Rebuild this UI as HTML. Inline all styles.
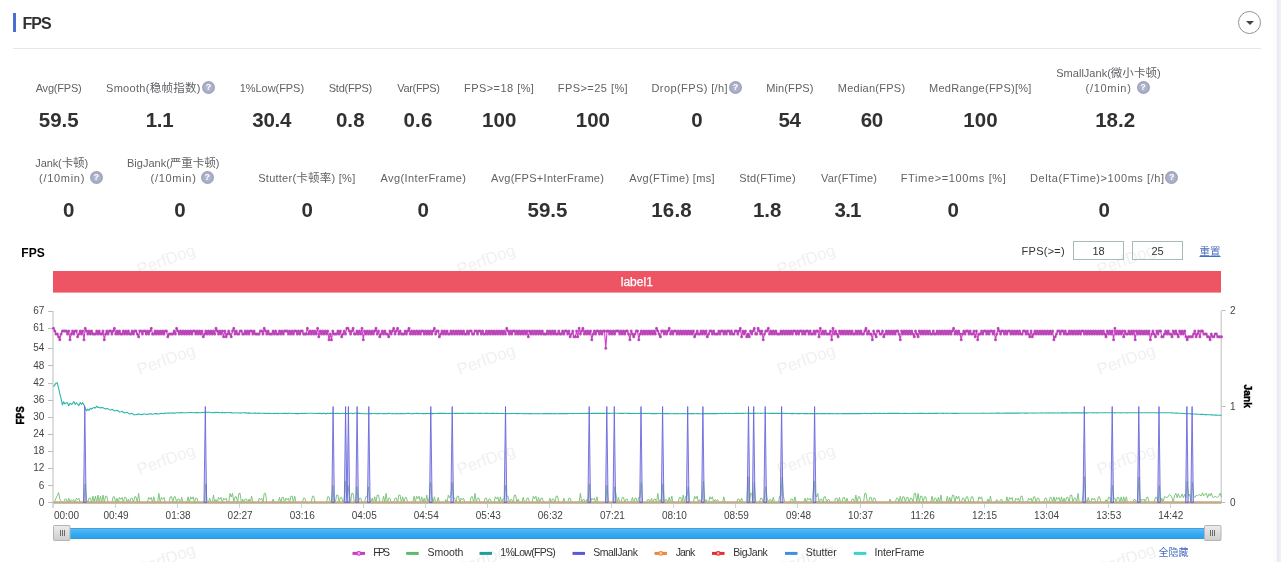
<!DOCTYPE html>
<html lang="zh-CN">
<head>
<meta charset="utf-8">
<title>FPS</title>
<style>
html,body{margin:0;padding:0;background:#fff;}
body{width:1281px;height:562px;position:relative;overflow:hidden;font-family:"Liberation Sans","Noto Sans CJK SC",sans-serif;color:#606266;}
.edge{position:absolute;left:1272px;top:0;width:9px;height:562px;background:linear-gradient(to right,#fff 0,#fafafa 50%,#eaeaf4 60%,#ebebf5 75%,#f0f0fa 85%,#f0f0fa 100%);}
.bar{position:absolute;left:13px;top:13px;width:3px;height:19px;background:#4a6fd0;}
.title{position:absolute;left:22.6px;top:14px;height:19px;line-height:19px;font-size:16px;letter-spacing:-1px;font-weight:bold;color:#303133;white-space:nowrap;}
.hr{position:absolute;left:13px;top:48px;width:1248px;height:1px;background:#e6e6e6;}
.fold{position:absolute;left:1238px;top:11px;width:21px;height:21px;border:1px solid #939393;border-radius:50%;background:#fff;}
.fold i{position:absolute;left:6.5px;top:9px;width:0;height:0;border-left:4px solid transparent;border-right:4px solid transparent;border-top:4px solid #444;}
.lb{position:absolute;white-space:pre;font-size:11px;line-height:14px;height:14px;color:#606266;}
.lb .c{font-size:11.5px;}
.vl{position:absolute;white-space:pre;font-size:20.5px;line-height:24px;height:24px;font-weight:bold;color:#303133;text-align:center;}
.q{position:absolute;width:13px;height:13px;border-radius:50%;background:radial-gradient(circle,#b4bcd8 0,#aab0cc 45%,#9c9eae 72%);color:#fff;font-size:9px;line-height:13px;font-weight:bold;text-align:center;}
.ct{position:absolute;left:21.3px;top:245.5px;font-size:12px;line-height:14px;font-weight:bold;color:#000;white-space:nowrap;}
.fl{position:absolute;top:244px;font-size:11px;line-height:14px;color:#333;white-space:pre;}
.inp{position:absolute;top:241px;width:49px;height:17px;border:1px solid #a9b8b8;font-size:11px;line-height:19px;text-align:center;color:#333;}
.lnk{position:absolute;font-size:10.5px;line-height:14px;color:#4a6cc0;text-decoration:underline;white-space:nowrap;}
svg{position:absolute;left:0;top:0;}
svg text{font-family:"Liberation Sans","Noto Sans CJK SC",sans-serif;}
</style>
</head>
<body>

<svg class="wm" width="1281" height="562" viewBox="0 0 1281 562"><g fill="#f0f0f0" font-size="16.5" text-anchor="middle">
<text transform="translate(166.0,259.3) rotate(-20)" y="6">PerfDog</text>
<text transform="translate(486.0,259.3) rotate(-20)" y="6">PerfDog</text>
<text transform="translate(806.0,259.3) rotate(-20)" y="6">PerfDog</text>
<text transform="translate(1126.0,259.3) rotate(-20)" y="6">PerfDog</text>
<text transform="translate(166.0,359.3) rotate(-20)" y="6">PerfDog</text>
<text transform="translate(486.0,359.3) rotate(-20)" y="6">PerfDog</text>
<text transform="translate(806.0,359.3) rotate(-20)" y="6">PerfDog</text>
<text transform="translate(1126.0,359.3) rotate(-20)" y="6">PerfDog</text>
<text transform="translate(166.0,459.3) rotate(-20)" y="6">PerfDog</text>
<text transform="translate(486.0,459.3) rotate(-20)" y="6">PerfDog</text>
<text transform="translate(806.0,459.3) rotate(-20)" y="6">PerfDog</text>
<text transform="translate(1126.0,459.3) rotate(-20)" y="6">PerfDog</text>
<text transform="translate(166.0,558.5) rotate(-20)" y="6">PerfDog</text>
<text transform="translate(486.0,558.5) rotate(-20)" y="6">PerfDog</text>
<text transform="translate(806.0,558.5) rotate(-20)" y="6">PerfDog</text>
<text transform="translate(1126.0,558.5) rotate(-20)" y="6">PerfDog</text>
</g></svg>
<div class="edge"></div>
<div class="bar"></div><div class="title">FPS</div><div class="fold"><i></i></div><div class="hr"></div>
<div class="stats">
<div class="lb" id="l1" style="left:35.70px;top:80.80px;letter-spacing:-0.214px">Avg(FPS)</div>
<div class="lb" id="l2" style="left:106.00px;top:80.80px;letter-spacing:0.295px">Smooth(<span class="c">稳帧指数</span>)</div>
<div class="lb" id="l3" style="left:239.75px;top:80.80px;letter-spacing:-0.056px">1%Low(FPS)</div>
<div class="lb" id="l4" style="left:328.75px;top:80.80px;letter-spacing:-0.250px">Std(FPS)</div>
<div class="lb" id="l5" style="left:397.25px;top:80.80px;letter-spacing:-0.321px">Var(FPS)</div>
<div class="lb" id="l6" style="left:464.00px;top:80.80px;letter-spacing:0.450px">FPS&gt;=18 [%]</div>
<div class="lb" id="l7" style="left:557.75px;top:80.80px;letter-spacing:0.450px">FPS&gt;=25 [%]</div>
<div class="lb" id="l8" style="left:651.50px;top:80.80px;letter-spacing:0.404px">Drop(FPS) [/h]</div>
<div class="lb" id="l9" style="left:766.25px;top:80.80px;letter-spacing:0.107px">Min(FPS)</div>
<div class="lb" id="l10" style="left:837.75px;top:80.80px;letter-spacing:0.250px">Median(FPS)</div>
<div class="lb" id="l11" style="left:929.00px;top:80.80px;letter-spacing:0.267px">MedRange(FPS)[%]</div>
<div class="lb" id="l12" style="left:1056.25px;top:65.80px;letter-spacing:0.018px">SmallJank(<span class="c">微小卡顿</span>)</div>
<div class="lb" id="l13" style="left:1085.50px;top:80.80px;letter-spacing:0.714px">(/10min)</div>
<div class="lb" id="m1" style="left:35.25px;top:155.80px;letter-spacing:-0.107px">Jank(<span class="c">卡顿</span>)</div>
<div class="lb" id="m2" style="left:39.00px;top:170.80px;letter-spacing:0.714px">(/10min)</div>
<div class="lb" id="m3" style="left:127.00px;top:155.80px;letter-spacing:0.000px">BigJank(<span class="c">严重卡顿</span>)</div>
<div class="lb" id="m4" style="left:150.50px;top:170.80px;letter-spacing:0.714px">(/10min)</div>
<div class="lb" id="m5" style="left:258.25px;top:170.80px;letter-spacing:0.250px">Stutter(<span class="c">卡顿率</span>) [%]</div>
<div class="lb" id="m6" style="left:380.50px;top:170.80px;letter-spacing:0.393px">Avg(InterFrame)</div>
<div class="lb" id="m7" style="left:491.00px;top:170.80px;letter-spacing:0.292px">Avg(FPS+InterFrame)</div>
<div class="lb" id="m8" style="left:629.25px;top:170.80px;letter-spacing:0.339px">Avg(FTime) [ms]</div>
<div class="lb" id="m9" style="left:739.25px;top:170.80px;letter-spacing:0.194px">Std(FTime)</div>
<div class="lb" id="m10" style="left:821.00px;top:170.80px;letter-spacing:0.167px">Var(FTime)</div>
<div class="lb" id="m11" style="left:900.75px;top:170.80px;letter-spacing:0.633px">FTime&gt;=100ms [%]</div>
<div class="lb" id="m12" style="left:1030.00px;top:170.80px;letter-spacing:0.568px">Delta(FTime)&gt;100ms [/h]</div>
<div class="vl" id="v1" style="left:18.75px;top:108.40px;width:80px;letter-spacing:-0.033px">59.5</div>
<div class="vl" id="v2" style="left:119.50px;top:108.40px;width:80px;letter-spacing:-0.350px">1.1</div>
<div class="vl" id="v3" style="left:231.75px;top:108.40px;width:80px;letter-spacing:-0.200px">30.4</div>
<div class="vl" id="v4" style="left:310.27px;top:108.40px;width:80px;letter-spacing:0.075px">0.8</div>
<div class="vl" id="v5" style="left:378.00px;top:108.40px;width:80px;letter-spacing:0.200px">0.6</div>
<div class="vl" id="v6" style="left:459.27px;top:108.40px;width:80px;letter-spacing:0.075px">100</div>
<div class="vl" id="v7" style="left:552.88px;top:108.40px;width:80px;letter-spacing:0.075px">100</div>
<div class="vl" id="v8" style="left:657.00px;top:108.40px;width:80px;letter-spacing:0.000px">0</div>
<div class="vl" id="v9" style="left:749.50px;top:108.40px;width:80px;letter-spacing:-0.500px">54</div>
<div class="vl" id="v10" style="left:831.88px;top:108.40px;width:80px;letter-spacing:-0.350px">60</div>
<div class="vl" id="v11" style="left:940.48px;top:108.40px;width:80px;letter-spacing:0.075px">100</div>
<div class="vl" id="v12" style="left:1075.15px;top:108.40px;width:80px;letter-spacing:-0.033px">18.2</div>
<div class="vl" id="w1" style="left:28.60px;top:198.40px;width:80px;letter-spacing:0.000px">0</div>
<div class="vl" id="w2" style="left:140.05px;top:198.40px;width:80px;letter-spacing:0.000px">0</div>
<div class="vl" id="w3" style="left:267.10px;top:198.40px;width:80px;letter-spacing:0.000px">0</div>
<div class="vl" id="w4" style="left:383.10px;top:198.40px;width:80px;letter-spacing:0.000px">0</div>
<div class="vl" id="w5" style="left:507.50px;top:198.40px;width:80px;letter-spacing:-0.033px">59.5</div>
<div class="vl" id="w6" style="left:631.62px;top:198.40px;width:80px;letter-spacing:0.217px">16.8</div>
<div class="vl" id="w7" style="left:727.12px;top:198.40px;width:80px;letter-spacing:-0.075px">1.8</div>
<div class="vl" id="w8" style="left:807.62px;top:198.40px;width:80px;letter-spacing:-0.825px">3.1</div>
<div class="vl" id="w9" style="left:913.25px;top:198.40px;width:80px;letter-spacing:0.000px">0</div>
<div class="vl" id="w10" style="left:1064.25px;top:198.40px;width:80px;letter-spacing:0.000px">0</div>
<div class="q" style="left:202.0px;top:81.0px">?</div>
<div class="q" style="left:729.1px;top:81.0px">?</div>
<div class="q" style="left:1136.6px;top:81.0px">?</div>
<div class="q" style="left:89.7px;top:171.0px">?</div>
<div class="q" style="left:200.7px;top:171.0px">?</div>
<div class="q" style="left:1165.2px;top:171.0px">?</div>
</div>
<div class="ct" id="ct">FPS</div>
<div class="fl" id="fl" style="left:1021.6px;letter-spacing:0.25px">FPS(&gt;=)</div>
<div class="inp" style="left:1073px">18</div><div class="inp" style="left:1132px">25</div>
<div class="lnk" id="rst" style="left:1199.5px;top:244px">重置</div>
<div class="lnk" id="hid" style="left:1158.5px;top:546px;font-size:10px;text-decoration:none">全隐藏</div>
<svg width="1281" height="562" viewBox="0 0 1281 562">
<rect x="53" y="271" width="1168" height="21.6" fill="#ed5565"/>
<text x="636.8" y="286.2" font-size="12" fill="#fff" stroke="#fff" stroke-width="0.25" text-anchor="middle">label1</text>
<g stroke="#bdbdbd" stroke-width="1" fill="none">
<path d="M53 311 V508"/>
<path d="M1221.2 311 V503"/>
<path d="M48 502.5 H53"/>
<path d="M48 485.5 H53"/>
<path d="M48 468.5 H53"/>
<path d="M48 451.5 H53"/>
<path d="M48 434.5 H53"/>
<path d="M48 417.5 H53"/>
<path d="M48 400.5 H53"/>
<path d="M48 383.5 H53"/>
<path d="M48 365.5 H53"/>
<path d="M48 348.5 H53"/>
<path d="M48 328.5 H53"/>
<path d="M48 311.5 H53"/>
<path d="M1221.5 502.5 H1225.5"/>
<path d="M1221.5 406.5 H1225.5"/>
<path d="M1221.5 310.5 H1225.5"/>
</g>
<g stroke="#c4d6e0" stroke-width="1" fill="none" shape-rendering="crispEdges">
<path d="M53.5 504 V508"/>
<path d="M115.5 504 V508"/>
<path d="M177.5 504 V508"/>
<path d="M239.5 504 V508"/>
<path d="M301.5 504 V508"/>
<path d="M363.5 504 V508"/>
<path d="M425.5 504 V508"/>
<path d="M487.5 504 V508"/>
<path d="M549.5 504 V508"/>
<path d="M611.5 504 V508"/>
<path d="M673.5 504 V508"/>
<path d="M735.5 504 V508"/>
<path d="M797.5 504 V508"/>
<path d="M860.5 504 V508"/>
<path d="M922.5 504 V508"/>
<path d="M984.5 504 V508"/>
<path d="M1046.5 504 V508"/>
<path d="M1108.5 504 V508"/>
<path d="M1170.5 504 V508"/>
</g>
<g font-size="10" fill="#444" text-anchor="end">
<text x="44.4" y="505.7">0</text>
<text x="44.4" y="488.6">6</text>
<text x="44.4" y="471.4">12</text>
<text x="44.4" y="454.3">18</text>
<text x="44.4" y="437.1">24</text>
<text x="44.4" y="420.0">30</text>
<text x="44.4" y="402.8">36</text>
<text x="44.4" y="385.7">42</text>
<text x="44.4" y="368.6">48</text>
<text x="44.4" y="351.4">54</text>
<text x="44.4" y="331.4">61</text>
<text x="44.4" y="314.3">67</text>
</g>
<g font-size="10" fill="#444" text-anchor="start">
<text x="1230" y="505.7">0</text>
<text x="1230" y="409.7">1</text>
<text x="1230" y="313.7">2</text>
</g>
<g font-size="10" fill="#444" text-anchor="middle">
<text x="54" y="518.6" text-anchor="start">00:00</text>
<text x="116.0" y="518.6">00:49</text>
<text x="178.1" y="518.6">01:38</text>
<text x="240.1" y="518.6">02:27</text>
<text x="302.2" y="518.6">03:16</text>
<text x="364.2" y="518.6">04:05</text>
<text x="426.2" y="518.6">04:54</text>
<text x="488.3" y="518.6">05:43</text>
<text x="550.3" y="518.6">06:32</text>
<text x="612.4" y="518.6">07:21</text>
<text x="674.4" y="518.6">08:10</text>
<text x="736.4" y="518.6">08:59</text>
<text x="798.5" y="518.6">09:48</text>
<text x="860.5" y="518.6">10:37</text>
<text x="922.6" y="518.6">11:26</text>
<text x="984.6" y="518.6">12:15</text>
<text x="1046.6" y="518.6">13:04</text>
<text x="1108.7" y="518.6">13:53</text>
<text x="1170.7" y="518.6">14:42</text>
</g>
<text id="ylab" transform="translate(24.1,424.4) rotate(-90) scale(0.84,1)" font-size="11" font-weight="bold" fill="#000" stroke="#000" stroke-width="0.45">FPS</text>
<text id="y2lab" transform="translate(1244,384.6) rotate(90) scale(0.93,1)" font-size="11" font-weight="bold" fill="#000" stroke="#000" stroke-width="0.4">Jank</text>
<polyline points="53.5,502.5 54.8,501.1 56.0,498.2 57.3,495.4 58.6,492.5 59.8,499.1 61.1,501.4 62.4,502.5 63.7,502.5 64.9,499.1 66.2,499.1 67.5,502.5 68.7,498.2 70.0,502.5 71.3,499.6 72.5,500.8 73.8,499.6 75.1,502.5 76.4,498.2 77.6,499.9 78.9,498.2 80.2,502.5 81.4,502.5 82.7,502.5 84.0,502.5 85.2,483.9 86.5,499.6 87.8,502.5 89.0,498.2 90.3,498.2 91.6,502.5 92.9,496.2 94.1,502.5 95.4,496.2 96.7,502.5 97.9,495.1 99.2,502.5 100.5,496.2 101.7,502.5 103.0,495.1 104.3,502.5 105.6,496.2 106.8,496.2 108.1,502.5 109.4,502.5 110.6,502.5 111.9,502.5 113.2,496.8 114.4,496.8 115.7,502.5 117.0,498.2 118.2,502.5 119.5,497.4 120.8,499.4 122.1,497.4 123.3,502.5 124.6,497.4 125.9,497.4 127.1,502.5 128.4,499.1 129.7,502.5 130.9,498.2 132.2,498.2 133.5,502.5 134.8,496.8 136.0,496.8 137.3,502.5 138.6,493.4 139.8,502.5 141.1,502.5 142.4,502.5 143.6,502.5 144.9,502.5 146.2,502.5 147.4,502.5 148.7,497.4 150.0,499.4 151.3,497.4 152.5,502.5 153.8,496.8 155.1,502.5 156.3,502.5 157.6,502.5 158.9,493.4 160.1,502.5 161.4,497.4 162.7,499.4 164.0,497.4 165.2,502.5 166.5,502.5 167.8,502.5 169.0,502.5 170.3,496.8 171.6,496.8 172.8,502.5 174.1,496.8 175.4,496.8 176.6,502.5 177.9,499.1 179.2,499.1 180.5,502.5 181.7,497.4 183.0,502.5 184.3,502.5 185.5,502.5 186.8,502.5 188.1,496.8 189.3,502.5 190.6,496.8 191.9,499.1 193.2,496.8 194.4,502.5 195.7,498.2 197.0,498.2 198.2,502.5 199.5,502.5 200.8,502.5 202.0,502.5 203.3,502.5 204.6,502.5 205.8,483.9 207.1,502.5 208.4,502.5 209.7,498.2 210.9,502.5 212.2,502.5 213.5,495.1 214.7,502.5 216.0,499.6 217.3,502.5 218.5,497.4 219.8,499.4 221.1,497.4 222.4,502.5 223.6,498.2 224.9,499.9 226.2,498.2 227.4,502.5 228.7,502.5 230.0,493.4 231.2,497.0 232.5,493.4 233.8,502.5 235.0,496.8 236.3,496.8 237.6,502.5 238.9,493.4 240.1,493.4 241.4,502.5 242.7,499.1 243.9,502.5 245.2,499.1 246.5,499.1 247.7,502.5 249.0,499.1 250.3,502.5 251.6,496.2 252.8,502.5 254.1,502.5 255.4,502.5 256.6,502.5 257.9,502.5 259.2,498.2 260.4,499.9 261.7,498.2 263.0,502.5 264.2,493.4 265.5,493.4 266.8,502.5 268.1,502.5 269.3,502.5 270.6,502.5 271.9,502.5 273.1,499.1 274.4,502.5 275.7,502.5 276.9,502.5 278.2,502.5 279.5,497.4 280.8,502.5 282.0,497.4 283.3,497.4 284.6,502.5 285.8,498.2 287.1,499.9 288.4,498.2 289.6,502.5 290.9,496.2 292.2,496.2 293.4,502.5 294.7,496.2 296.0,502.5 297.3,502.5 298.5,502.5 299.8,502.5 301.1,502.5 302.3,502.5 303.6,498.2 304.9,498.2 306.1,502.5 307.4,502.5 308.7,502.5 310.0,502.5 311.2,502.5 312.5,496.2 313.8,496.2 315.0,502.5 316.3,502.5 317.6,502.5 318.8,502.5 320.1,502.5 321.4,502.5 322.6,502.5 323.9,502.5 325.2,502.5 326.5,502.5 327.7,496.8 329.0,496.8 330.3,502.5 331.5,502.5 332.8,485.4 334.1,502.5 335.3,502.5 336.6,495.1 337.9,495.1 339.2,502.5 340.4,497.4 341.7,497.4 343.0,502.5 344.2,499.1 345.5,481.1 346.8,497.4 348.0,485.4 349.3,495.1 350.6,502.5 351.8,493.4 353.1,493.4 354.4,502.5 355.7,502.5 356.9,486.8 358.2,502.5 359.5,498.2 360.7,498.2 362.0,502.5 363.3,502.5 364.5,502.5 365.8,496.8 367.1,496.8 368.4,486.8 369.6,499.1 370.9,502.5 372.2,498.2 373.4,502.5 374.7,496.8 376.0,502.5 377.2,495.1 378.5,495.1 379.8,502.5 381.0,502.5 382.3,502.5 383.6,496.2 384.9,502.5 386.1,493.4 387.4,502.5 388.7,498.2 389.9,498.2 391.2,502.5 392.5,502.5 393.7,502.5 395.0,498.2 396.3,498.2 397.6,502.5 398.8,495.1 400.1,495.1 401.4,502.5 402.6,496.8 403.9,502.5 405.2,497.4 406.4,497.4 407.7,502.5 409.0,502.5 410.2,502.5 411.5,502.5 412.8,502.5 414.1,496.2 415.3,502.5 416.6,496.2 417.9,498.7 419.1,496.2 420.4,502.5 421.7,496.8 422.9,502.5 424.2,498.2 425.5,502.5 426.8,495.1 428.0,502.5 429.3,497.4 430.6,482.5 431.8,497.4 433.1,502.5 434.4,496.8 435.6,502.5 436.9,502.5 438.2,497.4 439.4,502.5 440.7,502.5 442.0,502.5 443.3,502.5 444.5,502.5 445.8,499.6 447.1,502.5 448.3,495.1 449.6,498.0 450.9,495.1 452.1,482.5 453.4,498.2 454.7,498.2 456.0,502.5 457.2,496.2 458.5,496.2 459.8,502.5 461.0,498.2 462.3,499.9 463.6,498.2 464.8,502.5 466.1,502.5 467.4,502.5 468.6,502.5 469.9,502.5 471.2,496.8 472.5,496.8 473.7,502.5 475.0,493.4 476.3,502.5 477.5,498.2 478.8,498.2 480.1,502.5 481.3,502.5 482.6,502.5 483.9,502.5 485.2,498.2 486.4,498.2 487.7,502.5 489.0,499.1 490.2,499.1 491.5,502.5 492.8,502.5 494.0,502.5 495.3,496.8 496.6,499.1 497.8,496.8 499.1,502.5 500.4,496.8 501.7,502.5 502.9,499.1 504.2,499.1 505.5,485.4 506.7,496.2 508.0,496.2 509.3,502.5 510.5,499.6 511.8,499.6 513.1,502.5 514.4,495.1 515.6,495.1 516.9,502.5 518.2,499.1 519.4,502.5 520.7,502.5 522.0,502.5 523.2,497.4 524.5,502.5 525.8,502.5 527.0,498.2 528.3,498.2 529.6,502.5 530.9,502.5 532.1,502.5 533.4,496.2 534.7,498.7 535.9,496.2 537.2,502.5 538.5,497.4 539.7,502.5 541.0,498.2 542.3,498.2 543.6,502.5 544.8,502.5 546.1,502.5 547.4,502.5 548.6,502.5 549.9,498.2 551.2,502.5 552.4,499.1 553.7,499.1 555.0,502.5 556.2,496.2 557.5,496.2 558.8,502.5 560.1,502.5 561.3,502.5 562.6,502.5 563.9,498.2 565.1,502.5 566.4,502.5 567.7,502.5 568.9,498.2 570.2,498.2 571.5,502.5 572.8,502.5 574.0,502.5 575.3,502.5 576.6,502.5 577.8,502.5 579.1,502.5 580.4,493.4 581.6,502.5 582.9,499.6 584.2,499.6 585.4,502.5 586.7,499.6 588.0,500.8 589.3,483.9 590.5,502.5 591.8,498.2 593.1,499.9 594.3,498.2 595.6,502.5 596.9,496.8 598.1,502.5 599.4,502.5 600.7,502.5 602.0,502.5 603.2,502.5 604.5,502.5 605.8,502.5 607.0,485.4 608.3,502.5 609.6,502.5 610.8,502.5 612.1,502.5 613.4,502.5 614.6,486.8 615.9,493.4 617.2,502.5 618.5,497.4 619.7,502.5 621.0,502.5 622.3,497.4 623.5,497.4 624.8,502.5 626.1,499.1 627.3,499.1 628.6,502.5 629.9,502.5 631.2,502.5 632.4,497.4 633.7,502.5 635.0,498.2 636.2,498.2 637.5,502.5 638.8,497.4 640.0,497.4 641.3,482.5 642.6,502.5 643.8,502.5 645.1,502.5 646.4,502.5 647.7,499.6 648.9,499.6 650.2,502.5 651.5,498.2 652.7,502.5 654.0,499.1 655.3,499.1 656.5,502.5 657.8,493.4 659.1,502.5 660.4,499.6 661.6,502.5 662.9,483.9 664.2,502.5 665.4,499.6 666.7,499.6 668.0,502.5 669.2,497.4 670.5,502.5 671.8,496.2 673.0,502.5 674.3,502.5 675.6,502.5 676.9,502.5 678.1,502.5 679.4,497.4 680.7,497.4 681.9,502.5 683.2,495.1 684.5,502.5 685.7,496.2 687.0,496.2 688.3,486.8 689.6,502.5 690.8,502.5 692.1,502.5 693.4,502.5 694.6,496.2 695.9,498.7 697.2,496.2 698.4,502.5 699.7,499.6 701.0,500.8 702.2,499.6 703.5,481.1 704.8,502.5 706.1,499.6 707.3,502.5 708.6,502.5 709.9,496.8 711.1,499.1 712.4,496.8 713.7,502.5 714.9,499.6 716.2,500.8 717.5,499.6 718.8,502.5 720.0,502.5 721.3,502.5 722.6,502.5 723.8,496.8 725.1,502.5 726.4,502.5 727.6,502.5 728.9,502.5 730.2,502.5 731.4,502.5 732.7,502.5 734.0,502.5 735.3,502.5 736.5,502.5 737.8,499.1 739.1,499.1 740.3,502.5 741.6,498.2 742.9,502.5 744.1,502.5 745.4,502.5 746.7,502.5 748.0,476.8 749.2,502.5 750.5,493.4 751.8,493.4 753.0,502.5 754.3,482.5 755.6,502.5 756.8,502.5 758.1,502.5 759.4,502.5 760.6,498.2 761.9,498.2 763.2,502.5 764.5,497.4 765.7,486.8 767.0,497.4 768.3,502.5 769.5,499.6 770.8,499.6 772.1,502.5 773.3,497.4 774.6,502.5 775.9,502.5 777.2,502.5 778.4,502.5 779.7,496.2 781.0,496.2 782.2,476.8 783.5,496.8 784.8,502.5 786.0,502.5 787.3,502.5 788.6,502.5 789.8,502.5 791.1,499.1 792.4,499.1 793.7,502.5 794.9,496.8 796.2,502.5 797.5,502.5 798.7,502.5 800.0,502.5 801.3,502.5 802.5,502.5 803.8,502.5 805.1,498.2 806.4,502.5 807.6,498.2 808.9,499.9 810.2,498.2 811.4,502.5 812.7,497.4 814.0,481.1 815.2,493.4 816.5,497.0 817.8,493.4 819.0,502.5 820.3,499.1 821.6,499.1 822.9,502.5 824.1,496.8 825.4,496.8 826.7,502.5 827.9,499.6 829.2,499.6 830.5,502.5 831.7,502.5 833.0,502.5 834.3,502.5 835.6,498.2 836.8,498.2 838.1,502.5 839.4,497.4 840.6,502.5 841.9,502.5 843.2,497.4 844.4,497.4 845.7,502.5 847.0,498.2 848.2,502.5 849.5,502.5 850.8,502.5 852.1,499.1 853.3,499.1 854.6,502.5 855.9,495.1 857.1,502.5 858.4,496.8 859.7,496.8 860.9,502.5 862.2,502.5 863.5,502.5 864.8,493.4 866.0,493.4 867.3,502.5 868.6,502.5 869.8,497.4 871.1,497.4 872.4,502.5 873.6,498.2 874.9,498.2 876.2,502.5 877.4,502.5 878.7,502.5 880.0,502.5 881.3,502.5 882.5,502.5 883.8,502.5 885.1,502.5 886.3,502.5 887.6,502.5 888.9,502.5 890.1,499.1 891.4,502.5 892.7,502.5 894.0,502.5 895.2,502.5 896.5,498.2 897.8,498.2 899.0,502.5 900.3,496.2 901.6,502.5 902.8,496.8 904.1,496.8 905.4,502.5 906.6,497.4 907.9,497.4 909.2,502.5 910.5,498.2 911.7,498.2 913.0,502.5 914.3,493.4 915.5,493.4 916.8,502.5 918.1,493.4 919.3,502.5 920.6,496.2 921.9,496.2 923.2,502.5 924.4,496.8 925.7,496.8 927.0,502.5 928.2,502.5 929.5,502.5 930.8,502.5 932.0,496.2 933.3,502.5 934.6,498.2 935.8,498.2 937.1,502.5 938.4,497.4 939.7,502.5 940.9,495.1 942.2,502.5 943.5,502.5 944.7,502.5 946.0,502.5 947.3,496.2 948.5,502.5 949.8,497.4 951.1,502.5 952.4,495.1 953.6,495.1 954.9,502.5 956.2,496.2 957.4,498.7 958.7,496.2 960.0,502.5 961.2,502.5 962.5,498.2 963.8,498.2 965.0,502.5 966.3,496.8 967.6,496.8 968.9,502.5 970.1,502.5 971.4,496.8 972.7,496.8 973.9,502.5 975.2,502.5 976.5,502.5 977.7,502.5 979.0,496.8 980.3,499.1 981.6,496.8 982.8,502.5 984.1,502.5 985.4,502.5 986.6,502.5 987.9,499.1 989.2,502.5 990.4,496.2 991.7,502.5 993.0,502.5 994.2,502.5 995.5,502.5 996.8,499.6 998.1,502.5 999.3,502.5 1000.6,499.6 1001.9,499.6 1003.1,502.5 1004.4,502.5 1005.7,502.5 1006.9,496.8 1008.2,502.5 1009.5,497.4 1010.8,499.4 1012.0,497.4 1013.3,502.5 1014.6,502.5 1015.8,498.2 1017.1,499.9 1018.4,498.2 1019.6,502.5 1020.9,496.2 1022.2,496.2 1023.4,502.5 1024.7,502.5 1026.0,502.5 1027.3,502.5 1028.5,498.2 1029.8,499.9 1031.1,498.2 1032.3,502.5 1033.6,496.8 1034.9,496.8 1036.1,502.5 1037.4,498.2 1038.7,498.2 1040.0,502.5 1041.2,502.5 1042.5,502.5 1043.8,502.5 1045.0,498.2 1046.3,498.2 1047.6,502.5 1048.8,502.5 1050.1,497.4 1051.4,497.4 1052.6,502.5 1053.9,496.8 1055.2,502.5 1056.5,497.4 1057.7,499.4 1059.0,497.4 1060.3,502.5 1061.5,496.8 1062.8,502.5 1064.1,498.2 1065.3,502.5 1066.6,497.4 1067.9,497.4 1069.2,502.5 1070.4,495.1 1071.7,495.1 1073.0,502.5 1074.2,498.2 1075.5,498.2 1076.8,502.5 1078.0,493.4 1079.3,502.5 1080.6,502.5 1081.8,502.5 1083.1,495.1 1084.4,476.8 1085.7,499.6 1086.9,502.5 1088.2,497.4 1089.5,502.5 1090.7,502.5 1092.0,498.2 1093.3,499.9 1094.5,498.2 1095.8,502.5 1097.1,502.5 1098.4,496.8 1099.6,496.8 1100.9,502.5 1102.2,502.5 1103.4,502.5 1104.7,502.5 1106.0,499.6 1107.2,502.5 1108.5,497.4 1109.8,497.4 1111.0,502.5 1112.3,485.4 1113.6,498.2 1114.9,498.2 1116.1,502.5 1117.4,497.4 1118.7,497.4 1119.9,502.5 1121.2,496.8 1122.5,502.5 1123.7,496.8 1125.0,502.5 1126.3,496.8 1127.6,502.5 1128.8,502.5 1130.1,502.5 1131.4,502.5 1132.6,502.5 1133.9,499.6 1135.2,499.6 1136.4,502.5 1137.7,499.6 1139.0,476.8 1140.2,502.5 1141.5,499.1 1142.8,500.4 1144.1,499.1 1145.3,502.5 1146.6,497.4 1147.9,497.4 1149.1,502.5 1150.4,502.5 1151.7,502.5 1152.9,502.5 1154.2,502.5 1155.5,497.4 1156.8,497.4 1158.0,502.5 1159.3,485.4 1160.6,502.5 1161.8,498.2 1163.1,502.5 1164.4,496.8 1165.6,496.8 1166.9,497.6 1168.2,496.7 1169.4,494.6 1170.7,495.5 1172.0,497.9 1173.3,502.5 1174.5,495.6 1175.8,493.4 1177.1,497.7 1178.3,493.7 1179.6,497.5 1180.9,497.0 1182.1,493.9 1183.4,497.9 1184.7,494.3 1186.0,497.7 1187.2,481.1 1188.5,496.2 1189.8,494.2 1191.0,502.5 1192.3,482.5 1193.6,496.0 1194.8,497.5 1196.1,495.4 1197.4,495.8 1198.6,494.5 1199.9,495.2 1201.2,495.9 1202.5,492.8 1203.7,495.8 1205.0,494.1 1206.3,493.4 1207.5,497.8 1208.8,493.8 1210.1,495.9 1211.3,493.1 1212.6,497.1 1213.9,497.5 1215.2,496.1 1216.4,497.3 1217.7,497.2 1219.0,495.9 1220.2,493.2 1221.5,497.0" fill="none" stroke="#70c070" stroke-width="0.9" stroke-linejoin="round"/>
<path d="M53.5 502.5 H1221.5" stroke="#c0aa88" stroke-width="2.4" fill="none"/>
<polyline points="53.5,386.8 54.8,384.9 56.0,383.1 57.3,382.9 58.6,388.2 59.8,393.5 61.1,398.8 62.4,405.0 63.7,401.8 64.9,403.9 66.2,402.9 67.5,402.9 68.7,405.8 70.0,403.2 71.3,404.4 72.5,403.8 73.8,401.5 75.1,404.4 76.4,402.9 77.6,404.1 78.9,405.6 80.2,402.6 81.4,404.3 82.7,402.7 84.0,404.9 85.2,408.4 86.5,410.8 87.8,409.2 89.0,410.3 90.3,408.3 91.6,409.2 92.9,408.0 94.1,407.6 95.4,407.9 96.7,406.1 97.9,407.4 99.2,407.4 100.5,408.1 101.7,407.6 103.0,407.6 104.3,408.6 105.6,409.1 106.8,408.5 108.1,408.7 109.4,409.8 110.6,410.0 111.9,409.4 113.2,409.8 114.4,410.9 115.7,410.8 117.0,410.3 118.2,411.0 119.5,412.0 120.8,411.7 122.1,411.3 123.3,412.2 124.6,413.0 125.9,412.5 127.1,412.4 128.4,413.4 129.7,413.9 130.9,413.4 132.2,413.5 133.5,414.6 134.8,414.8 136.0,414.7 137.3,414.4 138.6,414.1 139.8,414.3 141.1,414.6 142.4,414.4 143.6,414.0 144.9,414.0 146.2,414.3 147.4,414.4 148.7,414.0 150.0,413.7 151.3,413.9 152.5,414.2 153.8,414.0 155.1,413.6 156.3,413.6 157.6,413.9 158.9,414.0 160.1,413.6 161.4,413.3 162.7,413.5 164.0,413.8 165.2,413.0 166.5,413.2 167.8,413.1 169.0,413.0 170.3,413.2 171.6,412.8 172.8,413.1 174.1,413.0 175.4,413.1 176.6,412.7 177.9,412.7 179.2,413.0 180.5,412.6 181.7,412.6 183.0,412.7 184.3,412.7 185.5,412.8 186.8,412.7 188.1,412.7 189.3,412.5 190.6,412.5 191.9,412.5 193.2,412.7 194.4,412.7 195.7,412.6 197.0,412.6 198.2,412.5 199.5,412.7 200.8,412.7 202.0,412.3 203.3,412.5 204.6,412.5 205.8,412.4 207.1,412.3 208.4,412.3 209.7,412.3 210.9,412.5 212.2,412.7 213.5,412.5 214.7,412.6 216.0,412.4 217.3,412.5 218.5,412.4 219.8,412.7 221.1,412.7 222.4,412.4 223.6,412.7 224.9,412.5 226.2,412.8 227.4,412.5 228.7,412.5 230.0,412.6 231.2,412.6 232.5,413.0 233.8,413.0 235.0,412.7 236.3,412.7 237.6,413.0 238.9,413.0 240.1,412.7 241.4,413.0 242.7,412.8 243.9,412.8 245.2,412.9 246.5,412.9 247.7,413.2 249.0,412.9 250.3,413.1 251.6,413.2 252.8,413.2 254.1,413.1 255.4,413.0 256.6,413.2 257.9,413.4 259.2,413.0 260.4,413.3 261.7,413.3 263.0,413.3 264.2,413.4 265.5,413.4 266.8,413.5 268.1,413.4 269.3,413.3 270.6,413.5 271.9,413.5 273.1,413.5 274.4,413.3 275.7,413.5 276.9,413.3 278.2,413.6 279.5,413.3 280.8,413.2 282.0,413.5 283.3,413.4 284.6,413.4 285.8,413.3 287.1,413.6 288.4,413.4 289.6,413.3 290.9,413.3 292.2,413.5 293.4,413.5 294.7,413.5 296.0,413.6 297.3,413.5 298.5,413.6 299.8,413.5 301.1,413.4 302.3,413.2 303.6,413.5 304.9,413.4 306.1,413.5 307.4,413.2 308.7,413.2 310.0,413.2 311.2,413.2 312.5,413.3 313.8,413.3 315.0,413.5 316.3,413.5 317.6,413.3 318.8,413.4 320.1,413.4 321.4,413.6 322.6,413.4 323.9,413.3 325.2,413.6 326.5,413.6 327.7,413.3 329.0,413.5 330.3,413.4 331.5,413.4 332.8,413.4 334.1,413.5 335.3,413.5 336.6,413.4 337.9,413.2 339.2,413.5 340.4,413.6 341.7,413.3 343.0,413.3 344.2,413.4 345.5,413.6 346.8,413.6 348.0,413.4 349.3,413.5 350.6,413.3 351.8,413.2 353.1,413.7 354.4,413.3 355.7,413.3 356.9,413.4 358.2,413.4 359.5,413.4 360.7,413.5 362.0,413.5 363.3,413.7 364.5,413.8 365.8,413.7 367.1,413.8 368.4,413.7 369.6,413.7 370.9,413.4 372.2,413.8 373.4,413.5 374.7,413.5 376.0,413.7 377.2,413.6 378.5,413.6 379.8,413.5 381.0,413.5 382.3,413.7 383.6,413.6 384.9,413.6 386.1,413.8 387.4,413.6 388.7,413.4 389.9,413.5 391.2,413.7 392.5,413.6 393.7,413.7 395.0,413.7 396.3,413.5 397.6,413.8 398.8,413.6 400.1,413.8 401.4,413.4 402.6,413.8 403.9,413.6 405.2,413.8 406.4,413.5 407.7,413.4 409.0,413.4 410.2,413.7 411.5,413.8 412.8,413.6 414.1,413.5 415.3,413.5 416.6,413.4 417.9,413.4 419.1,413.7 420.4,413.5 421.7,413.5 422.9,413.6 424.2,413.6 425.5,413.6 426.8,413.5 428.0,413.5 429.3,413.6 430.6,413.6 431.8,413.4 433.1,413.6 434.4,413.5 435.6,413.5 436.9,413.5 438.2,413.4 439.4,413.4 440.7,413.4 442.0,413.4 443.3,413.4 444.5,413.4 445.8,413.4 447.1,413.5 448.3,413.5 449.6,413.3 450.9,413.5 452.1,413.3 453.4,413.3 454.7,413.4 456.0,413.4 457.2,413.4 458.5,413.4 459.8,413.5 461.0,413.4 462.3,413.3 463.6,413.4 464.8,413.3 466.1,413.3 467.4,413.4 468.6,413.4 469.9,413.3 471.2,413.4 472.5,413.4 473.7,413.4 475.0,413.3 476.3,413.3 477.5,413.4 478.8,413.3 480.1,413.4 481.3,413.4 482.6,413.3 483.9,413.3 485.2,413.4 486.4,413.4 487.7,413.4 489.0,413.5 490.2,413.5 491.5,413.3 492.8,413.4 494.0,413.4 495.3,413.5 496.6,413.4 497.8,413.4 499.1,413.5 500.4,413.5 501.7,413.4 502.9,413.5 504.2,413.5 505.5,413.5 506.7,413.6 508.0,413.5 509.3,413.5 510.5,413.6 511.8,413.5 513.1,413.5 514.4,413.5 515.6,413.5 516.9,413.6 518.2,413.6 519.4,413.5 520.7,413.5 522.0,413.7 523.2,413.6 524.5,413.7 525.8,413.6 527.0,413.7 528.3,413.6 529.6,413.6 530.9,413.6 532.1,413.6 533.4,413.7 534.7,413.7 535.9,413.6 537.2,413.7 538.5,413.6 539.7,413.7 541.0,413.7 542.3,413.7 543.6,413.6 544.8,413.6 546.1,413.6 547.4,413.6 548.6,413.6 549.9,413.6 551.2,413.6 552.4,413.7 553.7,413.6 555.0,413.5 556.2,413.7 557.5,413.7 558.8,413.5 560.1,413.6 561.3,413.6 562.6,413.5 563.9,413.6 565.1,413.6 566.4,413.6 567.7,413.6 568.9,413.5 570.2,413.5 571.5,413.5 572.8,413.6 574.0,413.5 575.3,413.5 576.6,413.5 577.8,413.5 579.1,413.5 580.4,413.5 581.6,413.4 582.9,413.5 584.2,413.4 585.4,413.5 586.7,413.4 588.0,413.4 589.3,413.4 590.5,413.5 591.8,413.4 593.1,413.4 594.3,413.3 595.6,413.4 596.9,413.4 598.1,413.4 599.4,413.4 600.7,413.4 602.0,413.4 603.2,413.4 604.5,413.4 605.8,413.3 607.0,413.3 608.3,413.4 609.6,413.4 610.8,413.3 612.1,413.3 613.4,413.3 614.6,413.3 615.9,413.3 617.2,413.3 618.5,413.3 619.7,413.4 621.0,413.4 622.3,413.3 623.5,413.4 624.8,413.3 626.1,413.3 627.3,413.4 628.6,413.4 629.9,413.4 631.2,413.5 632.4,413.5 633.7,413.4 635.0,413.5 636.2,413.5 637.5,413.5 638.8,413.4 640.0,413.5 641.3,413.4 642.6,413.5 643.8,413.5 645.1,413.4 646.4,413.5 647.7,413.5 648.9,413.4 650.2,413.5 651.5,413.6 652.7,413.6 654.0,413.5 655.3,413.6 656.5,413.6 657.8,413.5 659.1,413.5 660.4,413.5 661.6,413.5 662.9,413.5 664.2,413.6 665.4,413.6 666.7,413.5 668.0,413.6 669.2,413.6 670.5,413.7 671.8,413.7 673.0,413.7 674.3,413.6 675.6,413.7 676.9,413.6 678.1,413.6 679.4,413.7 680.7,413.7 681.9,413.6 683.2,413.7 684.5,413.6 685.7,413.7 687.0,413.7 688.3,413.6 689.6,413.6 690.8,413.6 692.1,413.6 693.4,413.6 694.6,413.7 695.9,413.7 697.2,413.6 698.4,413.6 699.7,413.7 701.0,413.7 702.2,413.7 703.5,413.6 704.8,413.5 706.1,413.6 707.3,413.6 708.6,413.5 709.9,413.6 711.1,413.6 712.4,413.6 713.7,413.6 714.9,413.5 716.2,413.6 717.5,413.6 718.8,413.5 720.0,413.5 721.3,413.4 722.6,413.6 723.8,413.5 725.1,413.4 726.4,413.4 727.6,413.5 728.9,413.4 730.2,413.5 731.4,413.5 732.7,413.5 734.0,413.5 735.3,413.4 736.5,413.4 737.8,413.4 739.1,413.4 740.3,413.5 741.6,413.4 742.9,413.4 744.1,413.3 745.4,413.3 746.7,413.3 748.0,413.3 749.2,413.4 750.5,413.4 751.8,413.3 753.0,413.4 754.3,413.3 755.6,413.4 756.8,413.3 758.1,413.3 759.4,413.3 760.6,413.4 761.9,413.3 763.2,413.3 764.5,413.3 765.7,413.4 767.0,413.3 768.3,413.3 769.5,413.4 770.8,413.3 772.1,413.4 773.3,413.3 774.6,413.4 775.9,413.4 777.2,413.4 778.4,413.3 779.7,413.4 781.0,413.4 782.2,413.4 783.5,413.4 784.8,413.5 786.0,413.4 787.3,413.5 788.6,413.5 789.8,413.5 791.1,413.6 792.4,413.4 793.7,413.6 794.9,413.5 796.2,413.5 797.5,413.6 798.7,413.5 800.0,413.6 801.3,413.5 802.5,413.5 803.8,413.6 805.1,413.6 806.4,413.5 807.6,413.6 808.9,413.7 810.2,413.6 811.4,413.6 812.7,413.6 814.0,413.5 815.2,413.7 816.5,413.6 817.8,413.6 819.0,413.7 820.3,413.6 821.6,413.6 822.9,413.6 824.1,413.6 825.4,413.6 826.7,413.7 827.9,413.6 829.2,413.6 830.5,413.6 831.7,413.7 833.0,413.6 834.3,413.7 835.6,413.7 836.8,413.6 838.1,413.6 839.4,413.7 840.6,413.7 841.9,413.6 843.2,413.6 844.4,413.6 845.7,413.6 847.0,413.6 848.2,413.5 849.5,413.6 850.8,413.6 852.1,413.6 853.3,413.6 854.6,413.5 855.9,413.6 857.1,413.6 858.4,413.5 859.7,413.6 860.9,413.6 862.2,413.5 863.5,413.5 864.8,413.4 866.0,413.5 867.3,413.6 868.6,413.5 869.8,413.5 871.1,413.6 872.4,413.5 873.6,413.4 874.9,413.4 876.2,413.4 877.4,413.5 878.7,413.4 880.0,413.4 881.3,413.5 882.5,413.5 883.8,413.4 885.1,413.5 886.3,413.5 887.6,413.4 888.9,413.4 890.1,413.3 891.4,413.4 892.7,413.3 894.0,413.4 895.2,413.4 896.5,413.4 897.8,413.4 899.0,413.4 900.3,413.5 901.6,413.5 902.8,413.5 904.1,413.4 905.4,413.4 906.6,413.5 907.9,413.5 909.2,413.5 910.5,413.5 911.7,413.5 913.0,413.4 914.3,413.5 915.5,413.4 916.8,413.5 918.1,413.4 919.3,413.4 920.6,413.4 921.9,413.4 923.2,413.4 924.4,413.4 925.7,413.5 927.0,413.5 928.2,413.4 929.5,413.4 930.8,413.4 932.0,413.5 933.3,413.4 934.6,413.4 935.8,413.4 937.1,413.4 938.4,413.3 939.7,413.3 940.9,413.3 942.2,413.4 943.5,413.4 944.7,413.3 946.0,413.3 947.3,413.4 948.5,413.3 949.8,413.3 951.1,413.3 952.4,413.4 953.6,413.3 954.9,413.4 956.2,413.3 957.4,413.4 958.7,413.3 960.0,413.3 961.2,413.2 962.5,413.3 963.8,413.3 965.0,413.3 966.3,413.3 967.6,413.3 968.9,413.2 970.1,413.3 971.4,413.2 972.7,413.2 973.9,413.2 975.2,413.2 976.5,413.2 977.7,413.2 979.0,413.3 980.3,413.2 981.6,413.2 982.8,413.1 984.1,413.2 985.4,413.2 986.6,413.2 987.9,413.2 989.2,413.2 990.4,413.2 991.7,413.1 993.0,413.2 994.2,413.2 995.5,413.2 996.8,413.1 998.1,413.1 999.3,413.1 1000.6,413.2 1001.9,413.2 1003.1,413.1 1004.4,413.2 1005.7,413.1 1006.9,413.1 1008.2,413.1 1009.5,413.1 1010.8,413.1 1012.0,413.1 1013.3,413.1 1014.6,413.1 1015.8,413.1 1017.1,413.1 1018.4,413.1 1019.6,413.1 1020.9,413.0 1022.2,413.0 1023.4,413.0 1024.7,413.1 1026.0,413.1 1027.3,413.1 1028.5,413.0 1029.8,413.0 1031.1,413.0 1032.3,413.0 1033.6,413.1 1034.9,413.0 1036.1,413.0 1037.4,413.0 1038.7,413.0 1040.0,413.0 1041.2,412.9 1042.5,413.0 1043.8,413.0 1045.0,413.0 1046.3,412.9 1047.6,413.0 1048.8,412.9 1050.1,413.0 1051.4,412.9 1052.6,413.0 1053.9,412.9 1055.2,413.0 1056.5,413.0 1057.7,412.9 1059.0,413.0 1060.3,413.0 1061.5,412.9 1062.8,412.9 1064.1,412.9 1065.3,412.9 1066.6,412.9 1067.9,412.9 1069.2,413.0 1070.4,412.9 1071.7,412.8 1073.0,412.9 1074.2,412.8 1075.5,412.9 1076.8,412.9 1078.0,412.9 1079.3,412.8 1080.6,412.9 1081.8,412.9 1083.1,412.8 1084.4,412.9 1085.7,412.9 1086.9,412.9 1088.2,412.8 1089.5,412.8 1090.7,412.8 1092.0,412.8 1093.3,412.9 1094.5,412.8 1095.8,412.7 1097.1,412.9 1098.4,412.7 1099.6,412.7 1100.9,412.8 1102.2,412.8 1103.4,412.8 1104.7,412.8 1106.0,412.8 1107.2,412.8 1108.5,412.8 1109.8,412.7 1111.0,412.8 1112.3,412.7 1113.6,412.8 1114.9,412.9 1116.1,412.8 1117.4,412.8 1118.7,412.7 1119.9,412.8 1121.2,412.9 1122.5,412.8 1123.7,412.8 1125.0,412.8 1126.3,412.8 1127.6,412.9 1128.8,412.8 1130.1,412.8 1131.4,412.8 1132.6,412.7 1133.9,412.8 1135.2,412.8 1136.4,412.8 1137.7,412.8 1139.0,412.8 1140.2,412.7 1141.5,412.8 1142.8,412.8 1144.1,412.8 1145.3,412.8 1146.6,412.7 1147.9,412.8 1149.1,412.7 1150.4,412.8 1151.7,412.7 1152.9,412.8 1154.2,412.8 1155.5,412.8 1156.8,412.8 1158.0,412.9 1159.3,412.8 1160.6,412.8 1161.8,412.8 1163.1,412.8 1164.4,412.7 1165.6,412.8 1166.9,412.8 1168.2,412.8 1169.4,412.7 1170.7,412.8 1172.0,412.9 1173.3,413.0 1174.5,413.0 1175.8,413.1 1177.1,413.1 1178.3,413.2 1179.6,413.3 1180.9,413.3 1182.1,413.4 1183.4,413.5 1184.7,413.5 1186.0,413.6 1187.2,413.7 1188.5,413.7 1189.8,413.8 1191.0,413.9 1192.3,413.9 1193.6,414.0 1194.8,414.0 1196.1,414.1 1197.4,414.2 1198.6,414.2 1199.9,414.3 1201.2,414.4 1202.5,414.4 1203.7,414.5 1205.0,414.6 1206.3,414.6 1207.5,414.7 1208.8,414.7 1210.1,414.8 1211.3,414.9 1212.6,414.9 1213.9,415.0 1215.2,415.1 1216.4,415.1 1217.7,415.2 1219.0,415.3 1220.2,415.3 1221.5,415.4" fill="none" stroke="#2cb5ac" stroke-width="1.1" stroke-linejoin="round"/>
<path d="M83.5 502.5 L84.8 406.5 L86.1 502.5 Z M204.0 502.5 L205.3 406.5 L206.6 502.5 Z M331.8 502.5 L333.1 406.5 L334.4 502.5 Z M344.3 502.5 L345.6 406.5 L346.9 502.5 Z M347.1 502.5 L348.4 406.5 L349.7 502.5 Z M355.8 502.5 L357.1 406.5 L358.4 502.5 Z M367.5 502.5 L368.8 406.5 L370.1 502.5 Z M429.5 502.5 L430.8 406.5 L432.1 502.5 Z M450.9 502.5 L452.2 406.5 L453.5 502.5 Z M504.2 502.5 L505.5 406.5 L506.8 502.5 Z M587.9 502.5 L589.2 406.5 L590.5 502.5 Z M605.5 502.5 L606.8 406.5 L608.1 502.5 Z M613.0 502.5 L614.3 406.5 L615.6 502.5 Z M639.7 502.5 L641.0 406.5 L642.3 502.5 Z M661.3 502.5 L662.6 406.5 L663.9 502.5 Z M686.4 502.5 L687.7 406.5 L689.0 502.5 Z M701.6 502.5 L702.9 406.5 L704.2 502.5 Z M747.2 502.5 L748.5 406.5 L749.8 502.5 Z M752.4 502.5 L753.7 406.5 L755.0 502.5 Z M763.9 502.5 L765.2 406.5 L766.5 502.5 Z M780.3 502.5 L781.6 406.5 L782.9 502.5 Z M813.3 502.5 L814.6 406.5 L815.9 502.5 Z M1083.0 502.5 L1084.3 406.5 L1085.6 502.5 Z M1110.9 502.5 L1112.2 406.5 L1113.5 502.5 Z M1137.5 502.5 L1138.8 406.5 L1140.1 502.5 Z M1157.7 502.5 L1159.0 406.5 L1160.3 502.5 Z M1185.6 502.5 L1186.9 406.5 L1188.2 502.5 Z M1190.8 502.5 L1192.1 406.5 L1193.4 502.5 Z" fill="#807ce8" fill-opacity="0.38" stroke="#6662dc" stroke-width="0.85" stroke-linejoin="miter"/>
<polyline points="53.5,328.2 54.8,331.1 56.0,333.9 57.3,333.9 58.6,336.8 59.8,339.7 61.1,333.9 62.4,331.1 63.7,331.1 64.9,331.1 66.2,331.1 67.5,333.9 68.7,331.1 70.0,339.7 71.3,333.9 72.5,331.1 73.8,333.9 75.1,331.1 76.4,331.1 77.6,336.8 78.9,333.9 80.2,331.1 81.4,333.9 82.7,331.1 84.0,339.7 85.2,328.2 86.5,331.1 87.8,333.9 89.0,331.1 90.3,333.9 91.6,331.1 92.9,333.9 94.1,333.9 95.4,333.9 96.7,331.1 97.9,333.9 99.2,331.1 100.5,333.9 101.7,333.9 103.0,331.1 104.3,339.7 105.6,333.9 106.8,331.1 108.1,333.9 109.4,331.1 110.6,331.1 111.9,333.9 113.2,331.1 114.4,328.2 115.7,333.9 117.0,331.1 118.2,333.9 119.5,331.1 120.8,333.9 122.1,333.9 123.3,331.1 124.6,333.9 125.9,331.1 127.1,333.9 128.4,331.1 129.7,333.9 130.9,333.9 132.2,331.1 133.5,333.9 134.8,331.1 136.0,331.1 137.3,333.9 138.6,336.8 139.8,331.1 141.1,331.1 142.4,333.9 143.6,331.1 144.9,331.1 146.2,333.9 147.4,331.1 148.7,333.9 150.0,331.1 151.3,328.2 152.5,333.9 153.8,333.9 155.1,331.1 156.3,333.9 157.6,331.1 158.9,333.9 160.1,331.1 161.4,333.9 162.7,331.1 164.0,333.9 165.2,331.1 166.5,331.1 167.8,336.8 169.0,333.9 170.3,333.9 171.6,333.9 172.8,333.9 174.1,331.1 175.4,333.9 176.6,328.2 177.9,331.1 179.2,333.9 180.5,331.1 181.7,333.9 183.0,331.1 184.3,333.9 185.5,331.1 186.8,333.9 188.1,331.1 189.3,333.9 190.6,331.1 191.9,333.9 193.2,331.1 194.4,331.1 195.7,333.9 197.0,331.1 198.2,333.9 199.5,331.1 200.8,333.9 202.0,331.1 203.3,336.8 204.6,333.9 205.8,331.1 207.1,333.9 208.4,331.1 209.7,333.9 210.9,331.1 212.2,333.9 213.5,331.1 214.7,333.9 216.0,328.2 217.3,331.1 218.5,333.9 219.8,331.1 221.1,333.9 222.4,331.1 223.6,336.8 224.9,331.1 226.2,336.8 227.4,333.9 228.7,331.1 230.0,333.9 231.2,336.8 232.5,331.1 233.8,328.2 235.0,333.9 236.3,331.1 237.6,333.9 238.9,333.9 240.1,331.1 241.4,331.1 242.7,333.9 243.9,333.9 245.2,331.1 246.5,333.9 247.7,331.1 249.0,333.9 250.3,331.1 251.6,331.1 252.8,333.9 254.1,331.1 255.4,333.9 256.6,333.9 257.9,333.9 259.2,333.9 260.4,331.1 261.7,331.1 263.0,333.9 264.2,328.2 265.5,331.1 266.8,333.9 268.1,331.1 269.3,333.9 270.6,333.9 271.9,333.9 273.1,331.1 274.4,333.9 275.7,331.1 276.9,333.9 278.2,333.9 279.5,331.1 280.8,333.9 282.0,331.1 283.3,333.9 284.6,331.1 285.8,331.1 287.1,331.1 288.4,333.9 289.6,331.1 290.9,333.9 292.2,331.1 293.4,333.9 294.7,331.1 296.0,331.1 297.3,333.9 298.5,331.1 299.8,333.9 301.1,331.1 302.3,331.1 303.6,333.9 304.9,333.9 306.1,333.9 307.4,328.2 308.7,333.9 310.0,331.1 311.2,333.9 312.5,331.1 313.8,333.9 315.0,331.1 316.3,333.9 317.6,328.2 318.8,336.8 320.1,331.1 321.4,333.9 322.6,331.1 323.9,333.9 325.2,331.1 326.5,333.9 327.7,331.1 329.0,339.7 330.3,333.9 331.5,339.7 332.8,331.1 334.1,333.9 335.3,333.9 336.6,333.9 337.9,331.1 339.2,333.9 340.4,331.1 341.7,336.8 343.0,333.9 344.2,331.1 345.5,333.9 346.8,328.2 348.0,328.2 349.3,331.1 350.6,333.9 351.8,331.1 353.1,328.2 354.4,333.9 355.7,333.9 356.9,331.1 358.2,333.9 359.5,331.1 360.7,333.9 362.0,328.2 363.3,339.7 364.5,331.1 365.8,333.9 367.1,331.1 368.4,333.9 369.6,331.1 370.9,333.9 372.2,331.1 373.4,333.9 374.7,331.1 376.0,328.2 377.2,333.9 378.5,331.1 379.8,336.8 381.0,333.9 382.3,331.1 383.6,333.9 384.9,331.1 386.1,333.9 387.4,333.9 388.7,336.8 389.9,331.1 391.2,333.9 392.5,331.1 393.7,328.2 395.0,333.9 396.3,331.1 397.6,328.2 398.8,333.9 400.1,331.1 401.4,333.9 402.6,333.9 403.9,333.9 405.2,331.1 406.4,333.9 407.7,331.1 409.0,328.2 410.2,333.9 411.5,331.1 412.8,333.9 414.1,331.1 415.3,333.9 416.6,331.1 417.9,333.9 419.1,331.1 420.4,333.9 421.7,331.1 422.9,331.1 424.2,333.9 425.5,331.1 426.8,333.9 428.0,331.1 429.3,333.9 430.6,331.1 431.8,333.9 433.1,331.1 434.4,328.2 435.6,333.9 436.9,331.1 438.2,331.1 439.4,336.8 440.7,333.9 442.0,331.1 443.3,333.9 444.5,331.1 445.8,333.9 447.1,331.1 448.3,333.9 449.6,333.9 450.9,331.1 452.1,333.9 453.4,331.1 454.7,333.9 456.0,331.1 457.2,333.9 458.5,331.1 459.8,333.9 461.0,331.1 462.3,333.9 463.6,331.1 464.8,333.9 466.1,333.9 467.4,331.1 468.6,333.9 469.9,331.1 471.2,331.1 472.5,333.9 473.7,333.9 475.0,331.1 476.3,331.1 477.5,333.9 478.8,331.1 480.1,331.1 481.3,333.9 482.6,331.1 483.9,333.9 485.2,333.9 486.4,331.1 487.7,333.9 489.0,331.1 490.2,333.9 491.5,331.1 492.8,333.9 494.0,331.1 495.3,333.9 496.6,331.1 497.8,333.9 499.1,331.1 500.4,333.9 501.7,331.1 502.9,333.9 504.2,331.1 505.5,333.9 506.7,328.2 508.0,331.1 509.3,333.9 510.5,331.1 511.8,333.9 513.1,331.1 514.4,331.1 515.6,333.9 516.9,331.1 518.2,333.9 519.4,331.1 520.7,333.9 522.0,331.1 523.2,333.9 524.5,331.1 525.8,333.9 527.0,331.1 528.3,336.8 529.6,331.1 530.9,333.9 532.1,331.1 533.4,333.9 534.7,331.1 535.9,333.9 537.2,331.1 538.5,333.9 539.7,331.1 541.0,333.9 542.3,331.1 543.6,333.9 544.8,333.9 546.1,333.9 547.4,331.1 548.6,333.9 549.9,331.1 551.2,333.9 552.4,331.1 553.7,333.9 555.0,331.1 556.2,333.9 557.5,333.9 558.8,331.1 560.1,333.9 561.3,333.9 562.6,331.1 563.9,333.9 565.1,331.1 566.4,331.1 567.7,333.9 568.9,331.1 570.2,336.8 571.5,333.9 572.8,331.1 574.0,336.8 575.3,336.8 576.6,331.1 577.8,336.8 579.1,328.2 580.4,333.9 581.6,331.1 582.9,328.2 584.2,333.9 585.4,331.1 586.7,333.9 588.0,331.1 589.3,333.9 590.5,331.1 591.8,339.7 593.1,333.9 594.3,331.1 595.6,333.9 596.9,331.1 598.1,331.1 599.4,333.9 600.7,331.1 602.0,333.9 603.2,331.1 604.5,331.1 605.8,348.2 607.0,331.1 608.3,331.1 609.6,333.9 610.8,331.1 612.1,333.9 613.4,331.1 614.6,333.9 615.9,331.1 617.2,331.1 618.5,331.1 619.7,333.9 621.0,331.1 622.3,333.9 623.5,331.1 624.8,333.9 626.1,331.1 627.3,331.1 628.6,333.9 629.9,339.7 631.2,331.1 632.4,333.9 633.7,336.8 635.0,333.9 636.2,331.1 637.5,331.1 638.8,339.7 640.0,333.9 641.3,331.1 642.6,333.9 643.8,331.1 645.1,333.9 646.4,331.1 647.7,333.9 648.9,331.1 650.2,333.9 651.5,331.1 652.7,333.9 654.0,331.1 655.3,333.9 656.5,328.2 657.8,331.1 659.1,333.9 660.4,336.8 661.6,331.1 662.9,331.1 664.2,333.9 665.4,331.1 666.7,333.9 668.0,331.1 669.2,328.2 670.5,333.9 671.8,331.1 673.0,333.9 674.3,331.1 675.6,331.1 676.9,333.9 678.1,331.1 679.4,333.9 680.7,331.1 681.9,333.9 683.2,331.1 684.5,333.9 685.7,331.1 687.0,333.9 688.3,331.1 689.6,333.9 690.8,331.1 692.1,333.9 693.4,331.1 694.6,336.8 695.9,333.9 697.2,331.1 698.4,333.9 699.7,333.9 701.0,331.1 702.2,333.9 703.5,331.1 704.8,333.9 706.1,331.1 707.3,336.8 708.6,333.9 709.9,331.1 711.1,331.1 712.4,333.9 713.7,331.1 714.9,333.9 716.2,333.9 717.5,333.9 718.8,331.1 720.0,333.9 721.3,331.1 722.6,331.1 723.8,333.9 725.1,331.1 726.4,333.9 727.6,331.1 728.9,331.1 730.2,333.9 731.4,331.1 732.7,333.9 734.0,333.9 735.3,331.1 736.5,331.1 737.8,333.9 739.1,331.1 740.3,328.2 741.6,336.8 742.9,331.1 744.1,333.9 745.4,331.1 746.7,336.8 748.0,333.9 749.2,336.8 750.5,331.1 751.8,333.9 753.0,331.1 754.3,328.2 755.6,333.9 756.8,333.9 758.1,328.2 759.4,331.1 760.6,333.9 761.9,331.1 763.2,339.7 764.5,333.9 765.7,331.1 767.0,331.1 768.3,328.2 769.5,333.9 770.8,331.1 772.1,333.9 773.3,331.1 774.6,333.9 775.9,331.1 777.2,333.9 778.4,333.9 779.7,333.9 781.0,331.1 782.2,333.9 783.5,331.1 784.8,333.9 786.0,331.1 787.3,333.9 788.6,331.1 789.8,333.9 791.1,331.1 792.4,333.9 793.7,331.1 794.9,331.1 796.2,333.9 797.5,331.1 798.7,333.9 800.0,331.1 801.3,331.1 802.5,333.9 803.8,331.1 805.1,333.9 806.4,331.1 807.6,331.1 808.9,333.9 810.2,331.1 811.4,333.9 812.7,333.9 814.0,331.1 815.2,333.9 816.5,331.1 817.8,331.1 819.0,336.8 820.3,328.2 821.6,333.9 822.9,331.1 824.1,333.9 825.4,331.1 826.7,333.9 827.9,333.9 829.2,333.9 830.5,331.1 831.7,339.7 833.0,328.2 834.3,333.9 835.6,331.1 836.8,333.9 838.1,336.8 839.4,331.1 840.6,333.9 841.9,331.1 843.2,333.9 844.4,331.1 845.7,333.9 847.0,331.1 848.2,333.9 849.5,331.1 850.8,333.9 852.1,331.1 853.3,333.9 854.6,333.9 855.9,331.1 857.1,333.9 858.4,331.1 859.7,333.9 860.9,331.1 862.2,333.9 863.5,333.9 864.8,331.1 866.0,328.2 867.3,333.9 868.6,331.1 869.8,333.9 871.1,333.9 872.4,339.7 873.6,331.1 874.9,333.9 876.2,336.8 877.4,331.1 878.7,331.1 880.0,333.9 881.3,333.9 882.5,331.1 883.8,336.8 885.1,333.9 886.3,331.1 887.6,333.9 888.9,331.1 890.1,333.9 891.4,331.1 892.7,333.9 894.0,331.1 895.2,333.9 896.5,331.1 897.8,331.1 899.0,333.9 900.3,339.7 901.6,331.1 902.8,333.9 904.1,331.1 905.4,333.9 906.6,331.1 907.9,333.9 909.2,331.1 910.5,333.9 911.7,331.1 913.0,333.9 914.3,336.8 915.5,331.1 916.8,333.9 918.1,336.8 919.3,331.1 920.6,333.9 921.9,331.1 923.2,333.9 924.4,331.1 925.7,333.9 927.0,331.1 928.2,333.9 929.5,331.1 930.8,333.9 932.0,333.9 933.3,331.1 934.6,333.9 935.8,333.9 937.1,331.1 938.4,333.9 939.7,331.1 940.9,333.9 942.2,331.1 943.5,333.9 944.7,331.1 946.0,333.9 947.3,331.1 948.5,333.9 949.8,331.1 951.1,333.9 952.4,331.1 953.6,328.2 954.9,333.9 956.2,331.1 957.4,333.9 958.7,331.1 960.0,333.9 961.2,339.7 962.5,333.9 963.8,331.1 965.0,333.9 966.3,331.1 967.6,331.1 968.9,333.9 970.1,331.1 971.4,333.9 972.7,333.9 973.9,331.1 975.2,336.8 976.5,331.1 977.7,339.7 979.0,333.9 980.3,333.9 981.6,331.1 982.8,333.9 984.1,331.1 985.4,331.1 986.6,333.9 987.9,331.1 989.2,333.9 990.4,331.1 991.7,331.1 993.0,333.9 994.2,331.1 995.5,339.7 996.8,333.9 998.1,328.2 999.3,331.1 1000.6,333.9 1001.9,331.1 1003.1,331.1 1004.4,333.9 1005.7,331.1 1006.9,333.9 1008.2,331.1 1009.5,331.1 1010.8,333.9 1012.0,331.1 1013.3,333.9 1014.6,331.1 1015.8,333.9 1017.1,331.1 1018.4,333.9 1019.6,331.1 1020.9,333.9 1022.2,333.9 1023.4,331.1 1024.7,331.1 1026.0,333.9 1027.3,331.1 1028.5,333.9 1029.8,336.8 1031.1,331.1 1032.3,336.8 1033.6,333.9 1034.9,331.1 1036.1,333.9 1037.4,331.1 1038.7,333.9 1040.0,331.1 1041.2,333.9 1042.5,331.1 1043.8,333.9 1045.0,331.1 1046.3,333.9 1047.6,331.1 1048.8,333.9 1050.1,331.1 1051.4,333.9 1052.6,331.1 1053.9,339.7 1055.2,336.8 1056.5,333.9 1057.7,331.1 1059.0,331.1 1060.3,333.9 1061.5,331.1 1062.8,331.1 1064.1,333.9 1065.3,331.1 1066.6,333.9 1067.9,333.9 1069.2,331.1 1070.4,333.9 1071.7,331.1 1073.0,333.9 1074.2,331.1 1075.5,333.9 1076.8,331.1 1078.0,333.9 1079.3,331.1 1080.6,333.9 1081.8,331.1 1083.1,331.1 1084.4,333.9 1085.7,331.1 1086.9,333.9 1088.2,331.1 1089.5,333.9 1090.7,331.1 1092.0,333.9 1093.3,331.1 1094.5,333.9 1095.8,331.1 1097.1,333.9 1098.4,331.1 1099.6,333.9 1100.9,331.1 1102.2,333.9 1103.4,331.1 1104.7,333.9 1106.0,336.8 1107.2,331.1 1108.5,333.9 1109.8,331.1 1111.0,333.9 1112.3,331.1 1113.6,339.7 1114.9,328.2 1116.1,333.9 1117.4,331.1 1118.7,333.9 1119.9,331.1 1121.2,333.9 1122.5,331.1 1123.7,336.8 1125.0,331.1 1126.3,333.9 1127.6,333.9 1128.8,331.1 1130.1,333.9 1131.4,331.1 1132.6,333.9 1133.9,331.1 1135.2,339.7 1136.4,331.1 1137.7,333.9 1139.0,331.1 1140.2,333.9 1141.5,331.1 1142.8,333.9 1144.1,331.1 1145.3,333.9 1146.6,331.1 1147.9,333.9 1149.1,331.1 1150.4,339.7 1151.7,333.9 1152.9,331.1 1154.2,333.9 1155.5,336.8 1156.8,331.1 1158.0,333.9 1159.3,331.1 1160.6,331.1 1161.8,336.8 1163.1,336.8 1164.4,333.9 1165.6,331.1 1166.9,333.9 1168.2,331.1 1169.4,333.9 1170.7,333.9 1172.0,336.8 1173.3,331.1 1174.5,333.9 1175.8,331.1 1177.1,333.9 1178.3,336.8 1179.6,331.1 1180.9,333.9 1182.1,331.1 1183.4,333.9 1184.7,331.1 1186.0,336.8 1187.2,339.7 1188.5,336.8 1189.8,336.8 1191.0,336.8 1192.3,336.8 1193.6,333.9 1194.8,331.1 1196.1,336.8 1197.4,333.9 1198.6,331.1 1199.9,336.8 1201.2,331.1 1202.5,331.1 1203.7,333.9 1205.0,333.9 1206.3,333.9 1207.5,336.8 1208.8,336.8 1210.1,339.7 1211.3,333.9 1212.6,336.8 1213.9,336.8 1215.2,333.9 1216.4,333.9 1217.7,336.8 1219.0,336.8 1220.2,336.8 1221.5,336.8" fill="none" stroke="#d63ccf" stroke-width="1.1" stroke-linejoin="round"/>
<path d="M53.5 328.2h0M54.8 331.1h0M56.0 333.9h0M57.3 333.9h0M58.6 336.8h0M59.8 339.7h0M61.1 333.9h0M62.4 331.1h0M63.7 331.1h0M64.9 331.1h0M66.2 331.1h0M67.5 333.9h0M68.7 331.1h0M70.0 339.7h0M71.3 333.9h0M72.5 331.1h0M73.8 333.9h0M75.1 331.1h0M76.4 331.1h0M77.6 336.8h0M78.9 333.9h0M80.2 331.1h0M81.4 333.9h0M82.7 331.1h0M84.0 339.7h0M85.2 328.2h0M86.5 331.1h0M87.8 333.9h0M89.0 331.1h0M90.3 333.9h0M91.6 331.1h0M92.9 333.9h0M94.1 333.9h0M95.4 333.9h0M96.7 331.1h0M97.9 333.9h0M99.2 331.1h0M100.5 333.9h0M101.7 333.9h0M103.0 331.1h0M104.3 339.7h0M105.6 333.9h0M106.8 331.1h0M108.1 333.9h0M109.4 331.1h0M110.6 331.1h0M111.9 333.9h0M113.2 331.1h0M114.4 328.2h0M115.7 333.9h0M117.0 331.1h0M118.2 333.9h0M119.5 331.1h0M120.8 333.9h0M122.1 333.9h0M123.3 331.1h0M124.6 333.9h0M125.9 331.1h0M127.1 333.9h0M128.4 331.1h0M129.7 333.9h0M130.9 333.9h0M132.2 331.1h0M133.5 333.9h0M134.8 331.1h0M136.0 331.1h0M137.3 333.9h0M138.6 336.8h0M139.8 331.1h0M141.1 331.1h0M142.4 333.9h0M143.6 331.1h0M144.9 331.1h0M146.2 333.9h0M147.4 331.1h0M148.7 333.9h0M150.0 331.1h0M151.3 328.2h0M152.5 333.9h0M153.8 333.9h0M155.1 331.1h0M156.3 333.9h0M157.6 331.1h0M158.9 333.9h0M160.1 331.1h0M161.4 333.9h0M162.7 331.1h0M164.0 333.9h0M165.2 331.1h0M166.5 331.1h0M167.8 336.8h0M169.0 333.9h0M170.3 333.9h0M171.6 333.9h0M172.8 333.9h0M174.1 331.1h0M175.4 333.9h0M176.6 328.2h0M177.9 331.1h0M179.2 333.9h0M180.5 331.1h0M181.7 333.9h0M183.0 331.1h0M184.3 333.9h0M185.5 331.1h0M186.8 333.9h0M188.1 331.1h0M189.3 333.9h0M190.6 331.1h0M191.9 333.9h0M193.2 331.1h0M194.4 331.1h0M195.7 333.9h0M197.0 331.1h0M198.2 333.9h0M199.5 331.1h0M200.8 333.9h0M202.0 331.1h0M203.3 336.8h0M204.6 333.9h0M205.8 331.1h0M207.1 333.9h0M208.4 331.1h0M209.7 333.9h0M210.9 331.1h0M212.2 333.9h0M213.5 331.1h0M214.7 333.9h0M216.0 328.2h0M217.3 331.1h0M218.5 333.9h0M219.8 331.1h0M221.1 333.9h0M222.4 331.1h0M223.6 336.8h0M224.9 331.1h0M226.2 336.8h0M227.4 333.9h0M228.7 331.1h0M230.0 333.9h0M231.2 336.8h0M232.5 331.1h0M233.8 328.2h0M235.0 333.9h0M236.3 331.1h0M237.6 333.9h0M238.9 333.9h0M240.1 331.1h0M241.4 331.1h0M242.7 333.9h0M243.9 333.9h0M245.2 331.1h0M246.5 333.9h0M247.7 331.1h0M249.0 333.9h0M250.3 331.1h0M251.6 331.1h0M252.8 333.9h0M254.1 331.1h0M255.4 333.9h0M256.6 333.9h0M257.9 333.9h0M259.2 333.9h0M260.4 331.1h0M261.7 331.1h0M263.0 333.9h0M264.2 328.2h0M265.5 331.1h0M266.8 333.9h0M268.1 331.1h0M269.3 333.9h0M270.6 333.9h0M271.9 333.9h0M273.1 331.1h0M274.4 333.9h0M275.7 331.1h0M276.9 333.9h0M278.2 333.9h0M279.5 331.1h0M280.8 333.9h0M282.0 331.1h0M283.3 333.9h0M284.6 331.1h0M285.8 331.1h0M287.1 331.1h0M288.4 333.9h0M289.6 331.1h0M290.9 333.9h0M292.2 331.1h0M293.4 333.9h0M294.7 331.1h0M296.0 331.1h0M297.3 333.9h0M298.5 331.1h0M299.8 333.9h0M301.1 331.1h0M302.3 331.1h0M303.6 333.9h0M304.9 333.9h0M306.1 333.9h0M307.4 328.2h0M308.7 333.9h0M310.0 331.1h0M311.2 333.9h0M312.5 331.1h0M313.8 333.9h0M315.0 331.1h0M316.3 333.9h0M317.6 328.2h0M318.8 336.8h0M320.1 331.1h0M321.4 333.9h0M322.6 331.1h0M323.9 333.9h0M325.2 331.1h0M326.5 333.9h0M327.7 331.1h0M329.0 339.7h0M330.3 333.9h0M331.5 339.7h0M332.8 331.1h0M334.1 333.9h0M335.3 333.9h0M336.6 333.9h0M337.9 331.1h0M339.2 333.9h0M340.4 331.1h0M341.7 336.8h0M343.0 333.9h0M344.2 331.1h0M345.5 333.9h0M346.8 328.2h0M348.0 328.2h0M349.3 331.1h0M350.6 333.9h0M351.8 331.1h0M353.1 328.2h0M354.4 333.9h0M355.7 333.9h0M356.9 331.1h0M358.2 333.9h0M359.5 331.1h0M360.7 333.9h0M362.0 328.2h0M363.3 339.7h0M364.5 331.1h0M365.8 333.9h0M367.1 331.1h0M368.4 333.9h0M369.6 331.1h0M370.9 333.9h0M372.2 331.1h0M373.4 333.9h0M374.7 331.1h0M376.0 328.2h0M377.2 333.9h0M378.5 331.1h0M379.8 336.8h0M381.0 333.9h0M382.3 331.1h0M383.6 333.9h0M384.9 331.1h0M386.1 333.9h0M387.4 333.9h0M388.7 336.8h0M389.9 331.1h0M391.2 333.9h0M392.5 331.1h0M393.7 328.2h0M395.0 333.9h0M396.3 331.1h0M397.6 328.2h0M398.8 333.9h0M400.1 331.1h0M401.4 333.9h0M402.6 333.9h0M403.9 333.9h0M405.2 331.1h0M406.4 333.9h0M407.7 331.1h0M409.0 328.2h0M410.2 333.9h0M411.5 331.1h0M412.8 333.9h0M414.1 331.1h0M415.3 333.9h0M416.6 331.1h0M417.9 333.9h0M419.1 331.1h0M420.4 333.9h0M421.7 331.1h0M422.9 331.1h0M424.2 333.9h0M425.5 331.1h0M426.8 333.9h0M428.0 331.1h0M429.3 333.9h0M430.6 331.1h0M431.8 333.9h0M433.1 331.1h0M434.4 328.2h0M435.6 333.9h0M436.9 331.1h0M438.2 331.1h0M439.4 336.8h0M440.7 333.9h0M442.0 331.1h0M443.3 333.9h0M444.5 331.1h0M445.8 333.9h0M447.1 331.1h0M448.3 333.9h0M449.6 333.9h0M450.9 331.1h0M452.1 333.9h0M453.4 331.1h0M454.7 333.9h0M456.0 331.1h0M457.2 333.9h0M458.5 331.1h0M459.8 333.9h0M461.0 331.1h0M462.3 333.9h0M463.6 331.1h0M464.8 333.9h0M466.1 333.9h0M467.4 331.1h0M468.6 333.9h0M469.9 331.1h0M471.2 331.1h0M472.5 333.9h0M473.7 333.9h0M475.0 331.1h0M476.3 331.1h0M477.5 333.9h0M478.8 331.1h0M480.1 331.1h0M481.3 333.9h0M482.6 331.1h0M483.9 333.9h0M485.2 333.9h0M486.4 331.1h0M487.7 333.9h0M489.0 331.1h0M490.2 333.9h0M491.5 331.1h0M492.8 333.9h0M494.0 331.1h0M495.3 333.9h0M496.6 331.1h0M497.8 333.9h0M499.1 331.1h0M500.4 333.9h0M501.7 331.1h0M502.9 333.9h0M504.2 331.1h0M505.5 333.9h0M506.7 328.2h0M508.0 331.1h0M509.3 333.9h0M510.5 331.1h0M511.8 333.9h0M513.1 331.1h0M514.4 331.1h0M515.6 333.9h0M516.9 331.1h0M518.2 333.9h0M519.4 331.1h0M520.7 333.9h0M522.0 331.1h0M523.2 333.9h0M524.5 331.1h0M525.8 333.9h0M527.0 331.1h0M528.3 336.8h0M529.6 331.1h0M530.9 333.9h0M532.1 331.1h0M533.4 333.9h0M534.7 331.1h0M535.9 333.9h0M537.2 331.1h0M538.5 333.9h0M539.7 331.1h0M541.0 333.9h0M542.3 331.1h0M543.6 333.9h0M544.8 333.9h0M546.1 333.9h0M547.4 331.1h0M548.6 333.9h0M549.9 331.1h0M551.2 333.9h0M552.4 331.1h0M553.7 333.9h0M555.0 331.1h0M556.2 333.9h0M557.5 333.9h0M558.8 331.1h0M560.1 333.9h0M561.3 333.9h0M562.6 331.1h0M563.9 333.9h0M565.1 331.1h0M566.4 331.1h0M567.7 333.9h0M568.9 331.1h0M570.2 336.8h0M571.5 333.9h0M572.8 331.1h0M574.0 336.8h0M575.3 336.8h0M576.6 331.1h0M577.8 336.8h0M579.1 328.2h0M580.4 333.9h0M581.6 331.1h0M582.9 328.2h0M584.2 333.9h0M585.4 331.1h0M586.7 333.9h0M588.0 331.1h0M589.3 333.9h0M590.5 331.1h0M591.8 339.7h0M593.1 333.9h0M594.3 331.1h0M595.6 333.9h0M596.9 331.1h0M598.1 331.1h0M599.4 333.9h0M600.7 331.1h0M602.0 333.9h0M603.2 331.1h0M604.5 331.1h0M605.8 348.2h0M607.0 331.1h0M608.3 331.1h0M609.6 333.9h0M610.8 331.1h0M612.1 333.9h0M613.4 331.1h0M614.6 333.9h0M615.9 331.1h0M617.2 331.1h0M618.5 331.1h0M619.7 333.9h0M621.0 331.1h0M622.3 333.9h0M623.5 331.1h0M624.8 333.9h0M626.1 331.1h0M627.3 331.1h0M628.6 333.9h0M629.9 339.7h0M631.2 331.1h0M632.4 333.9h0M633.7 336.8h0M635.0 333.9h0M636.2 331.1h0M637.5 331.1h0M638.8 339.7h0M640.0 333.9h0M641.3 331.1h0M642.6 333.9h0M643.8 331.1h0M645.1 333.9h0M646.4 331.1h0M647.7 333.9h0M648.9 331.1h0M650.2 333.9h0M651.5 331.1h0M652.7 333.9h0M654.0 331.1h0M655.3 333.9h0M656.5 328.2h0M657.8 331.1h0M659.1 333.9h0M660.4 336.8h0M661.6 331.1h0M662.9 331.1h0M664.2 333.9h0M665.4 331.1h0M666.7 333.9h0M668.0 331.1h0M669.2 328.2h0M670.5 333.9h0M671.8 331.1h0M673.0 333.9h0M674.3 331.1h0M675.6 331.1h0M676.9 333.9h0M678.1 331.1h0M679.4 333.9h0M680.7 331.1h0M681.9 333.9h0M683.2 331.1h0M684.5 333.9h0M685.7 331.1h0M687.0 333.9h0M688.3 331.1h0M689.6 333.9h0M690.8 331.1h0M692.1 333.9h0M693.4 331.1h0M694.6 336.8h0M695.9 333.9h0M697.2 331.1h0M698.4 333.9h0M699.7 333.9h0M701.0 331.1h0M702.2 333.9h0M703.5 331.1h0M704.8 333.9h0M706.1 331.1h0M707.3 336.8h0M708.6 333.9h0M709.9 331.1h0M711.1 331.1h0M712.4 333.9h0M713.7 331.1h0M714.9 333.9h0M716.2 333.9h0M717.5 333.9h0M718.8 331.1h0M720.0 333.9h0M721.3 331.1h0M722.6 331.1h0M723.8 333.9h0M725.1 331.1h0M726.4 333.9h0M727.6 331.1h0M728.9 331.1h0M730.2 333.9h0M731.4 331.1h0M732.7 333.9h0M734.0 333.9h0M735.3 331.1h0M736.5 331.1h0M737.8 333.9h0M739.1 331.1h0M740.3 328.2h0M741.6 336.8h0M742.9 331.1h0M744.1 333.9h0M745.4 331.1h0M746.7 336.8h0M748.0 333.9h0M749.2 336.8h0M750.5 331.1h0M751.8 333.9h0M753.0 331.1h0M754.3 328.2h0M755.6 333.9h0M756.8 333.9h0M758.1 328.2h0M759.4 331.1h0M760.6 333.9h0M761.9 331.1h0M763.2 339.7h0M764.5 333.9h0M765.7 331.1h0M767.0 331.1h0M768.3 328.2h0M769.5 333.9h0M770.8 331.1h0M772.1 333.9h0M773.3 331.1h0M774.6 333.9h0M775.9 331.1h0M777.2 333.9h0M778.4 333.9h0M779.7 333.9h0M781.0 331.1h0M782.2 333.9h0M783.5 331.1h0M784.8 333.9h0M786.0 331.1h0M787.3 333.9h0M788.6 331.1h0M789.8 333.9h0M791.1 331.1h0M792.4 333.9h0M793.7 331.1h0M794.9 331.1h0M796.2 333.9h0M797.5 331.1h0M798.7 333.9h0M800.0 331.1h0M801.3 331.1h0M802.5 333.9h0M803.8 331.1h0M805.1 333.9h0M806.4 331.1h0M807.6 331.1h0M808.9 333.9h0M810.2 331.1h0M811.4 333.9h0M812.7 333.9h0M814.0 331.1h0M815.2 333.9h0M816.5 331.1h0M817.8 331.1h0M819.0 336.8h0M820.3 328.2h0M821.6 333.9h0M822.9 331.1h0M824.1 333.9h0M825.4 331.1h0M826.7 333.9h0M827.9 333.9h0M829.2 333.9h0M830.5 331.1h0M831.7 339.7h0M833.0 328.2h0M834.3 333.9h0M835.6 331.1h0M836.8 333.9h0M838.1 336.8h0M839.4 331.1h0M840.6 333.9h0M841.9 331.1h0M843.2 333.9h0M844.4 331.1h0M845.7 333.9h0M847.0 331.1h0M848.2 333.9h0M849.5 331.1h0M850.8 333.9h0M852.1 331.1h0M853.3 333.9h0M854.6 333.9h0M855.9 331.1h0M857.1 333.9h0M858.4 331.1h0M859.7 333.9h0M860.9 331.1h0M862.2 333.9h0M863.5 333.9h0M864.8 331.1h0M866.0 328.2h0M867.3 333.9h0M868.6 331.1h0M869.8 333.9h0M871.1 333.9h0M872.4 339.7h0M873.6 331.1h0M874.9 333.9h0M876.2 336.8h0M877.4 331.1h0M878.7 331.1h0M880.0 333.9h0M881.3 333.9h0M882.5 331.1h0M883.8 336.8h0M885.1 333.9h0M886.3 331.1h0M887.6 333.9h0M888.9 331.1h0M890.1 333.9h0M891.4 331.1h0M892.7 333.9h0M894.0 331.1h0M895.2 333.9h0M896.5 331.1h0M897.8 331.1h0M899.0 333.9h0M900.3 339.7h0M901.6 331.1h0M902.8 333.9h0M904.1 331.1h0M905.4 333.9h0M906.6 331.1h0M907.9 333.9h0M909.2 331.1h0M910.5 333.9h0M911.7 331.1h0M913.0 333.9h0M914.3 336.8h0M915.5 331.1h0M916.8 333.9h0M918.1 336.8h0M919.3 331.1h0M920.6 333.9h0M921.9 331.1h0M923.2 333.9h0M924.4 331.1h0M925.7 333.9h0M927.0 331.1h0M928.2 333.9h0M929.5 331.1h0M930.8 333.9h0M932.0 333.9h0M933.3 331.1h0M934.6 333.9h0M935.8 333.9h0M937.1 331.1h0M938.4 333.9h0M939.7 331.1h0M940.9 333.9h0M942.2 331.1h0M943.5 333.9h0M944.7 331.1h0M946.0 333.9h0M947.3 331.1h0M948.5 333.9h0M949.8 331.1h0M951.1 333.9h0M952.4 331.1h0M953.6 328.2h0M954.9 333.9h0M956.2 331.1h0M957.4 333.9h0M958.7 331.1h0M960.0 333.9h0M961.2 339.7h0M962.5 333.9h0M963.8 331.1h0M965.0 333.9h0M966.3 331.1h0M967.6 331.1h0M968.9 333.9h0M970.1 331.1h0M971.4 333.9h0M972.7 333.9h0M973.9 331.1h0M975.2 336.8h0M976.5 331.1h0M977.7 339.7h0M979.0 333.9h0M980.3 333.9h0M981.6 331.1h0M982.8 333.9h0M984.1 331.1h0M985.4 331.1h0M986.6 333.9h0M987.9 331.1h0M989.2 333.9h0M990.4 331.1h0M991.7 331.1h0M993.0 333.9h0M994.2 331.1h0M995.5 339.7h0M996.8 333.9h0M998.1 328.2h0M999.3 331.1h0M1000.6 333.9h0M1001.9 331.1h0M1003.1 331.1h0M1004.4 333.9h0M1005.7 331.1h0M1006.9 333.9h0M1008.2 331.1h0M1009.5 331.1h0M1010.8 333.9h0M1012.0 331.1h0M1013.3 333.9h0M1014.6 331.1h0M1015.8 333.9h0M1017.1 331.1h0M1018.4 333.9h0M1019.6 331.1h0M1020.9 333.9h0M1022.2 333.9h0M1023.4 331.1h0M1024.7 331.1h0M1026.0 333.9h0M1027.3 331.1h0M1028.5 333.9h0M1029.8 336.8h0M1031.1 331.1h0M1032.3 336.8h0M1033.6 333.9h0M1034.9 331.1h0M1036.1 333.9h0M1037.4 331.1h0M1038.7 333.9h0M1040.0 331.1h0M1041.2 333.9h0M1042.5 331.1h0M1043.8 333.9h0M1045.0 331.1h0M1046.3 333.9h0M1047.6 331.1h0M1048.8 333.9h0M1050.1 331.1h0M1051.4 333.9h0M1052.6 331.1h0M1053.9 339.7h0M1055.2 336.8h0M1056.5 333.9h0M1057.7 331.1h0M1059.0 331.1h0M1060.3 333.9h0M1061.5 331.1h0M1062.8 331.1h0M1064.1 333.9h0M1065.3 331.1h0M1066.6 333.9h0M1067.9 333.9h0M1069.2 331.1h0M1070.4 333.9h0M1071.7 331.1h0M1073.0 333.9h0M1074.2 331.1h0M1075.5 333.9h0M1076.8 331.1h0M1078.0 333.9h0M1079.3 331.1h0M1080.6 333.9h0M1081.8 331.1h0M1083.1 331.1h0M1084.4 333.9h0M1085.7 331.1h0M1086.9 333.9h0M1088.2 331.1h0M1089.5 333.9h0M1090.7 331.1h0M1092.0 333.9h0M1093.3 331.1h0M1094.5 333.9h0M1095.8 331.1h0M1097.1 333.9h0M1098.4 331.1h0M1099.6 333.9h0M1100.9 331.1h0M1102.2 333.9h0M1103.4 331.1h0M1104.7 333.9h0M1106.0 336.8h0M1107.2 331.1h0M1108.5 333.9h0M1109.8 331.1h0M1111.0 333.9h0M1112.3 331.1h0M1113.6 339.7h0M1114.9 328.2h0M1116.1 333.9h0M1117.4 331.1h0M1118.7 333.9h0M1119.9 331.1h0M1121.2 333.9h0M1122.5 331.1h0M1123.7 336.8h0M1125.0 331.1h0M1126.3 333.9h0M1127.6 333.9h0M1128.8 331.1h0M1130.1 333.9h0M1131.4 331.1h0M1132.6 333.9h0M1133.9 331.1h0M1135.2 339.7h0M1136.4 331.1h0M1137.7 333.9h0M1139.0 331.1h0M1140.2 333.9h0M1141.5 331.1h0M1142.8 333.9h0M1144.1 331.1h0M1145.3 333.9h0M1146.6 331.1h0M1147.9 333.9h0M1149.1 331.1h0M1150.4 339.7h0M1151.7 333.9h0M1152.9 331.1h0M1154.2 333.9h0M1155.5 336.8h0M1156.8 331.1h0M1158.0 333.9h0M1159.3 331.1h0M1160.6 331.1h0M1161.8 336.8h0M1163.1 336.8h0M1164.4 333.9h0M1165.6 331.1h0M1166.9 333.9h0M1168.2 331.1h0M1169.4 333.9h0M1170.7 333.9h0M1172.0 336.8h0M1173.3 331.1h0M1174.5 333.9h0M1175.8 331.1h0M1177.1 333.9h0M1178.3 336.8h0M1179.6 331.1h0M1180.9 333.9h0M1182.1 331.1h0M1183.4 333.9h0M1184.7 331.1h0M1186.0 336.8h0M1187.2 339.7h0M1188.5 336.8h0M1189.8 336.8h0M1191.0 336.8h0M1192.3 336.8h0M1193.6 333.9h0M1194.8 331.1h0M1196.1 336.8h0M1197.4 333.9h0M1198.6 331.1h0M1199.9 336.8h0M1201.2 331.1h0M1202.5 331.1h0M1203.7 333.9h0M1205.0 333.9h0M1206.3 333.9h0M1207.5 336.8h0M1208.8 336.8h0M1210.1 339.7h0M1211.3 333.9h0M1212.6 336.8h0M1213.9 336.8h0M1215.2 333.9h0M1216.4 333.9h0M1217.7 336.8h0M1219.0 336.8h0M1220.2 336.8h0M1221.5 336.8h0" fill="none" stroke="#b03aae" stroke-opacity="0.85" stroke-width="3" stroke-linecap="round"/>
<defs><linearGradient id="sb" x1="0" y1="0" x2="0" y2="1"><stop offset="0" stop-color="#4d9dca"/><stop offset="0.09" stop-color="#4d9dca"/><stop offset="0.1" stop-color="#55b9fd"/><stop offset="0.55" stop-color="#34abf3"/><stop offset="0.9" stop-color="#2aa3ec"/><stop offset="0.91" stop-color="#3a98d4"/><stop offset="1" stop-color="#3a98d4"/></linearGradient><linearGradient id="hd" x1="0" y1="0" x2="0" y2="1"><stop offset="0" stop-color="#ececec"/><stop offset="1" stop-color="#cdcdcd"/></linearGradient></defs>
<rect x="53" y="528" width="1168" height="11" fill="url(#sb)"/>
<rect x="53.5" y="525.5" width="16.5" height="15" rx="0.8" fill="url(#hd)" stroke="#b4b4b4" stroke-width="1"/>
<path d="M60.5 530 v6 M62.5 530 v6 M64.5 530 v6" stroke="#6a6a6a" stroke-width="1" shape-rendering="crispEdges"/>
<rect x="1204.5" y="525.5" width="16.5" height="15" rx="0.8" fill="url(#hd)" stroke="#b4b4b4" stroke-width="1"/>
<path d="M1210.5 530 v6 M1212.5 530 v6 M1214.5 530 v6" stroke="#6a6a6a" stroke-width="1" shape-rendering="crispEdges"/>
<path d="M352.5 553.4 h12.5" stroke="#cb3bc4" stroke-width="3" fill="none"/>
<circle cx="358.8" cy="553.4" r="1.9" fill="#fff" fill-opacity="0.55" stroke="#cb3bc4" stroke-width="1.1"/>
<text class="lg" id="lg0" x="373.30" y="556" font-size="10.5" fill="#333" letter-spacing="-1.800">FPS</text>
<path d="M406.2 553.4 h12.5" stroke="#5cb96c" stroke-width="3" fill="none"/>
<text class="lg" id="lg1" x="427.55" y="556" font-size="10.5" fill="#333" letter-spacing="-0.070">Smooth</text>
<path d="M479.5 553.4 h12.5" stroke="#1f9e9e" stroke-width="3" fill="none"/>
<text class="lg" id="lg2" x="500.30" y="556" font-size="10.5" fill="#333" letter-spacing="-0.706">1%Low(FPS)</text>
<path d="M572.5 553.4 h12.5" stroke="#5b58d6" stroke-width="3" fill="none"/>
<text class="lg" id="lg3" x="593.30" y="556" font-size="10.5" fill="#333" letter-spacing="-0.481">SmallJank</text>
<path d="M654.5 553.4 h12.5" stroke="#f0863c" stroke-width="3" fill="none"/>
<circle cx="660.8" cy="553.4" r="1.9" fill="#fff" fill-opacity="0.55" stroke="#f0863c" stroke-width="1.1"/>
<text class="lg" id="lg4" x="675.80" y="556" font-size="10.5" fill="#333" letter-spacing="-0.950">Jank</text>
<path d="M712.0 553.4 h12.5" stroke="#e0312f" stroke-width="3" fill="none"/>
<circle cx="718.2" cy="553.4" r="1.9" fill="#fff" fill-opacity="0.55" stroke="#e0312f" stroke-width="1.1"/>
<text class="lg" id="lg5" x="733.30" y="556" font-size="10.5" fill="#333" letter-spacing="-0.475">BigJank</text>
<path d="M785.0 553.4 h12.5" stroke="#3f8fe0" stroke-width="3" fill="none"/>
<text class="lg" id="lg6" x="805.80" y="556" font-size="10.5" fill="#333" letter-spacing="-0.017">Stutter</text>
<path d="M853.8 553.4 h12.5" stroke="#3fd0cf" stroke-width="3" fill="none"/>
<text class="lg" id="lg7" x="874.55" y="556" font-size="10.5" fill="#333" letter-spacing="-0.178">InterFrame</text>
</svg>
</body>
</html>
